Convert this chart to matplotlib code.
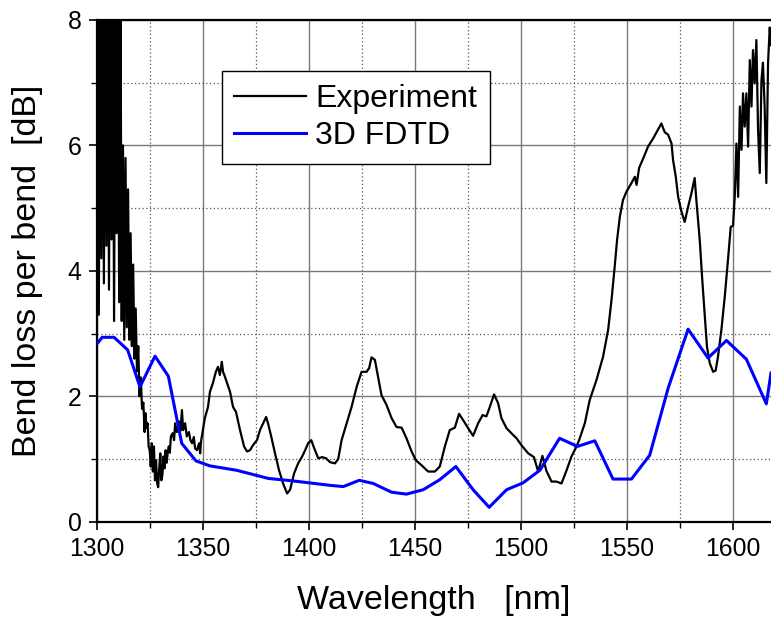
import matplotlib
matplotlib.use("Agg")
import matplotlib.pyplot as plt
from matplotlib.ticker import MultipleLocator

plt.rcParams["font.family"] = ["Liberation Sans", "DejaVu Sans"]

# Measured bend loss (wavelength in nm, loss in dB)
exp_wl = [
    1300.0, 1300.4, 1301.0, 1301.6, 1302.2, 1302.8, 1303.4, 1304.0, 1304.6, 1305.2,
    1305.8, 1306.4, 1307.0, 1307.6, 1308.2, 1308.8, 1309.4, 1310.0, 1310.6, 1311.2,
    1311.8, 1312.4, 1313.0, 1313.6, 1314.2, 1314.8, 1315.4, 1316.0, 1316.6, 1317.2,
    1317.8, 1318.4, 1319.0, 1319.6, 1320.2, 1320.8, 1321.4, 1322.0,
    1322.6, 1323.0, 1323.5, 1324.0, 1324.5, 1325.0, 1325.5, 1326.0, 1326.5, 1327.0,
    1327.5, 1328.0, 1328.5, 1329.0, 1329.5, 1330.0, 1330.5, 1331.0, 1331.5, 1332.0,
    1332.5, 1333.0, 1333.5, 1334.0, 1334.5, 1335.0, 1335.8, 1336.5, 1337.0, 1337.8,
    1338.8, 1339.5, 1340.2, 1340.8, 1341.7, 1342.5, 1343.5, 1344.2, 1345.0, 1345.8,
    1346.4, 1347.3, 1348.3, 1348.8, 1349.2, 1350.1, 1351.0, 1352.5, 1353.4, 1354.8,
    1356.2, 1357.2, 1358.1, 1359.0, 1359.6, 1360.5, 1361.5, 1362.9, 1364.3, 1365.7,
    1367.6, 1369.5, 1370.9, 1372.3, 1373.7, 1375.6, 1377.0, 1378.5, 1379.9, 1380.8,
    1382.3, 1384.1, 1386.0, 1387.9, 1389.8, 1391.2, 1393.1, 1395.0, 1396.9, 1398.3,
    1399.7, 1401.2, 1402.6, 1404.5, 1406.3, 1408.2, 1410.0, 1412.4, 1413.9, 1415.5,
    1417.9, 1420.2, 1422.6, 1424.9, 1427.3, 1428.5, 1429.6, 1431.2, 1432.7, 1434.3,
    1436.7, 1439.1, 1441.4, 1443.8, 1446.1, 1448.5, 1450.5, 1453.2, 1456.3, 1459.5,
    1461.8, 1464.2, 1466.5, 1468.9, 1470.9, 1472.8, 1475.2, 1477.5, 1479.9, 1482.0,
    1483.8, 1485.4, 1487.4, 1489.3, 1490.9, 1493.3, 1495.6, 1498.0, 1500.3, 1503.5,
    1506.2, 1508.2, 1510.2, 1512.1, 1514.5, 1516.8, 1519.2, 1521.6, 1523.9, 1526.3,
    1527.5, 1530.2, 1532.5, 1535.7, 1538.8, 1541.2, 1542.8, 1544.3, 1545.4, 1546.7,
    1548.2, 1549.8, 1552.2, 1553.8, 1554.6, 1555.8, 1557.7, 1560.0, 1562.4, 1564.7,
    1566.3, 1567.9, 1569.5, 1571.1, 1571.8, 1573.1, 1574.2, 1575.8, 1577.3, 1578.9,
    1580.5, 1582.0, 1582.8, 1584.4, 1585.6, 1586.7, 1587.8, 1589.1, 1590.7, 1591.9,
    1593.0, 1594.6, 1596.2, 1597.7, 1599.0, 1600.1, 1600.9, 1601.7, 1602.5, 1603.3,
    1604.1, 1604.8, 1605.6, 1606.4, 1607.2, 1608.0, 1608.8, 1609.5, 1610.3, 1611.1,
    1611.9, 1612.7, 1613.5, 1614.2, 1615.0, 1615.8, 1616.6, 1617.4, 1618.0,
]
exp_loss = [
    3.4, 8.5, 3.3, 8.5, 4.2, 8.5, 3.8, 8.5, 4.4, 8.5,
    3.7, 8.5, 4.5, 8.5, 3.2, 8.5, 4.6, 8.5, 3.5, 8.5,
    3.2, 6.0, 2.9, 5.8, 3.1, 5.3, 2.9, 4.6, 2.8, 4.1,
    2.6, 3.4, 2.4, 2.8, 2.0, 2.3, 1.8, 1.9,
    1.43, 1.73, 1.50, 1.57, 1.20, 1.14, 0.88, 1.25, 0.80, 1.20,
    0.66, 0.98, 0.62, 0.55, 0.85, 1.09, 0.66, 0.75, 1.04, 0.85,
    1.14, 0.94, 1.10, 1.20, 1.10, 1.36, 1.41, 1.30, 1.57, 1.43,
    1.60, 1.45, 1.78, 1.46, 1.57, 1.36, 1.43, 1.30, 1.25, 1.35,
    1.17, 1.14, 1.25, 1.09, 1.28, 1.46, 1.65, 1.83, 2.07, 2.21,
    2.39, 2.47, 2.34, 2.55, 2.39, 2.31, 2.21, 2.07, 1.83, 1.75,
    1.46, 1.20, 1.12, 1.14, 1.22, 1.30, 1.46, 1.57, 1.67, 1.57,
    1.36, 1.09, 0.82, 0.61, 0.45, 0.51, 0.77, 0.93, 1.04, 1.14,
    1.25, 1.30, 1.17, 1.01, 1.03, 1.01, 0.95, 0.93, 1.00, 1.30,
    1.57, 1.83, 2.15, 2.39, 2.39, 2.45, 2.62, 2.58, 2.31, 2.02,
    1.86, 1.65, 1.51, 1.50, 1.33, 1.12, 0.98, 0.90, 0.80, 0.80,
    0.88, 1.20, 1.46, 1.50, 1.72, 1.62, 1.49, 1.37, 1.57, 1.70,
    1.68, 1.83, 2.03, 1.89, 1.65, 1.49, 1.41, 1.33, 1.22, 1.09,
    1.03, 0.80, 1.05, 0.81, 0.64, 0.64, 0.61, 0.82, 1.04, 1.20,
    1.30, 1.57, 1.94, 2.26, 2.63, 3.06, 3.54, 4.07, 4.49, 4.86,
    5.13, 5.26, 5.40, 5.50, 5.37, 5.64, 5.79, 5.98, 6.11, 6.25,
    6.35, 6.21, 6.17, 6.03, 5.77, 5.50, 5.18, 4.94, 4.78, 5.02,
    5.24, 5.48, 5.13, 4.49, 3.85, 3.32, 2.79, 2.53, 2.39, 2.41,
    2.63, 3.06, 3.59, 4.17, 4.70, 4.72, 5.18, 6.03, 5.18, 6.62,
    5.93, 6.83, 6.30, 6.83, 5.98, 7.36, 6.62, 7.52, 6.99, 7.68,
    6.25, 5.56, 7.04, 7.32, 6.62, 5.40, 7.31, 7.88, 7.6,
]

# Simulated bend loss from 3D FDTD
fdtd_wl = [
    1300.0, 1302.6, 1308.2, 1314.6, 1320.4, 1327.5, 1333.8, 1340.1, 1346.8, 1353.4,
    1366.0, 1380.9, 1392.7, 1410.0, 1416.3, 1423.8, 1430.4, 1439.1, 1446.1, 1454.0,
    1461.8, 1469.4, 1477.5, 1485.1, 1493.3, 1501.1, 1509.0, 1518.3, 1526.7, 1534.9,
    1543.5, 1552.2, 1560.8, 1569.5, 1578.9, 1588.3, 1597.0, 1606.4, 1615.8, 1618.0,
]
fdtd_loss = [
    2.83, 2.94, 2.94, 2.74, 2.15, 2.64, 2.32, 1.25, 0.97, 0.89,
    0.82, 0.69, 0.65, 0.58, 0.56, 0.66, 0.61, 0.47, 0.44, 0.51,
    0.67, 0.88, 0.51, 0.23, 0.51, 0.62, 0.82, 1.33, 1.20, 1.29,
    0.68, 0.68, 1.06, 2.13, 3.07, 2.61, 2.89, 2.59, 1.88, 2.37,
]

x_ticks = [1300, 1350, 1400, 1450, 1500, 1550, 1600]
y_ticks = [0, 2, 4, 6, 8]

fig = plt.figure(figsize=(7.71, 6.21), dpi=100)
ax = fig.add_axes([0.1254, 0.1599, 0.8746, 0.8079])

ax.plot(exp_wl, exp_loss, color="black", lw=1.6, label="Experiment", zorder=3)
ax.plot(fdtd_wl, fdtd_loss, color="#0000ff", lw=2.2, label="3D FDTD", zorder=4)

ax.set_xlim(1300, 1618)
ax.set_ylim(0, 8)
ax.set_xticks(x_ticks)
ax.set_yticks(y_ticks)
ax.xaxis.set_minor_locator(MultipleLocator(25))
ax.yaxis.set_minor_locator(MultipleLocator(1))

ax.grid(which="major", color="#7a7a7a", lw=1.0, ls="-", zorder=0)
ax.grid(which="minor", color="#555555", lw=0.9, ls=(0, (1, 2)), zorder=0)
ax.set_axisbelow(True)

for side in ("left", "bottom", "top"):
    ax.spines[side].set_linewidth(1.6)
ax.spines["right"].set_visible(False)

ax.tick_params(which="major", direction="out", length=6, width=1.2,
               labelsize=17.8, pad=5, top=False, right=False)
ax.tick_params(which="minor", direction="out", length=4, width=1.0,
               top=False, right=False)

ax.set_xlabel("Wavelength   [nm]", fontsize=24.5, labelpad=17)
ax.set_ylabel("Bend loss per bend  [dB]", fontsize=24.5, labelpad=18)

leg = ax.legend(loc="upper left", bbox_to_anchor=(0.1854, 0.898),
                borderaxespad=0, fontsize=23, handlelength=2.25,
                handletextpad=0.27, borderpad=0.4, labelspacing=0.22,
                fancybox=False, framealpha=1, edgecolor="black")
leg.get_frame().set_linewidth(1.0)

fig.savefig("out.png", dpi=100)
